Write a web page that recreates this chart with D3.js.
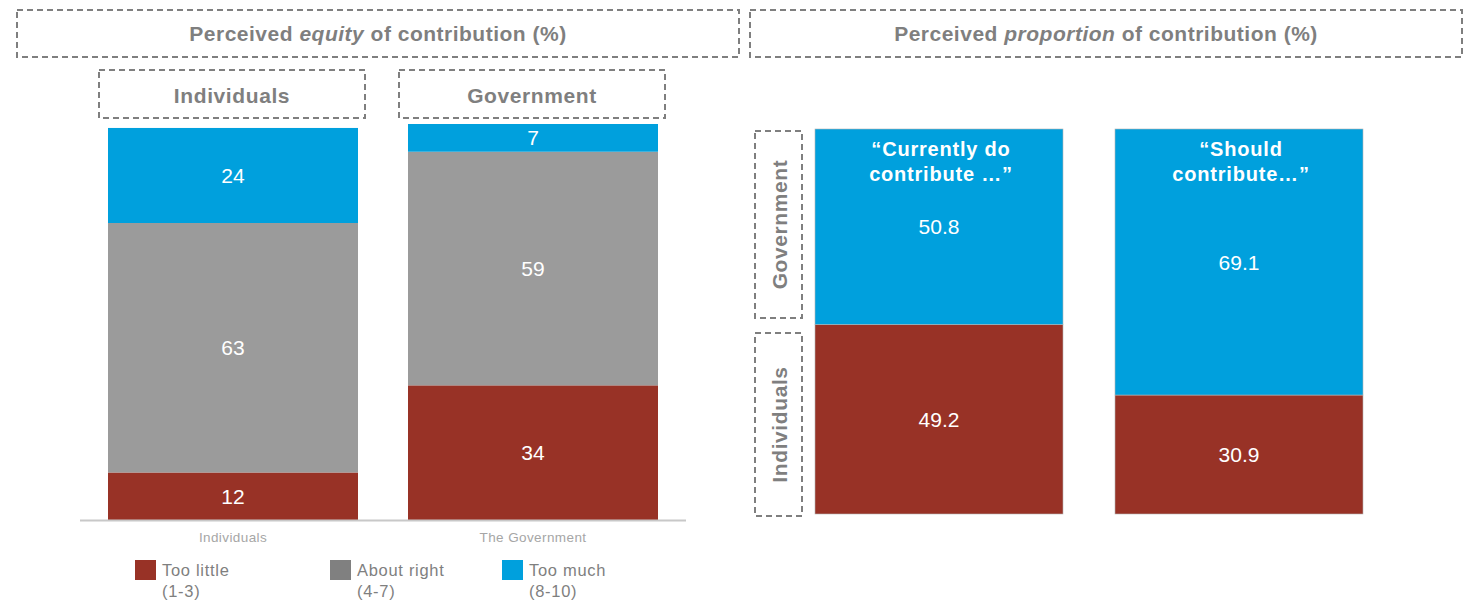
<!DOCTYPE html>
<html>
<head>
<meta charset="utf-8">
<script src="https://cdn.jsdelivr.net/npm/d3@7/dist/d3.min.js"></script>
<style>
  html, body { margin: 0; padding: 0; background: #fff; }
  svg { display: block; font-family: "Liberation Sans", Arial, sans-serif; }
</style>
</head>
<body>
<svg id="chart" width="1470" height="604"></svg>
<script>
// ---- Data ----
const equityCategories = ["Individuals", "The Government"];
const equityHeaders = ["Individuals", "Government"];
const equitySeries = ["Too little", "About right", "Too much"];
const equityRanges = ["(1-3)", "(4-7)", "(8-10)"];
const tooLittle = [12, 34];
const aboutRight = [63, 59];
const tooMuch = [24, 7];

const proportionCategories = ["“Currently do\ncontribute …”", "“Should\ncontribute…”"];
const proportionSeries = ["Individuals", "Government"];
const individualsShare = [49.2, 30.9];
const governmentShare = [50.8, 69.1];

// ---- Styles ----
const RED = "#983226", GREY = "#9b9b9b", BLUE = "#00a0dd";
const LEGEND_GREY = "#808080";
const TEXT_GREY = "#7f7f7f";

const svg = d3.select("#chart");

function dashedBox(x, y, w, h) {
  svg.append("rect")
    .attr("x", x).attr("y", y).attr("width", w).attr("height", h)
    .attr("fill", "none").attr("stroke", "#7f7f7f")
    .attr("stroke-width", 2).attr("stroke-dasharray", "6,4");
}

// ---- Section headers ----
function header(x, y, w, h, parts) {
  dashedBox(x, y, w, h);
  const t = svg.append("text")
    .attr("x", x + w / 2).attr("y", y + h / 2 + 7.5)
    .attr("text-anchor", "middle")
    .attr("font-size", 21).attr("font-weight", "bold").attr("fill", TEXT_GREY)
    .attr("letter-spacing", 0.5);
  parts.forEach(p => {
    t.append("tspan").text(p.t).attr("font-style", p.i ? "italic" : "normal");
  });
}
header(17, 10, 722, 47, [{t: "Perceived "}, {t: "equity", i: true}, {t: " of contribution  (%)"}]);
header(750, 10, 712, 47, [{t: "Perceived "}, {t: "proportion", i: true}, {t: "  of contribution  (%)"}]);

// ---- Left chart: perceived equity ----
const xL = d3.scaleBand()
  .domain(equityCategories)
  .range([83, 683])
  .paddingInner(1 / 6)
  .paddingOuter(1 / 12);
const yL = d3.scaleLinear().domain([0, 100]).range([520, 124]);

const equityRows = equityCategories.map((c, i) => ({
  cat: c, "Too little": tooLittle[i], "About right": aboutRight[i], "Too much": tooMuch[i]
}));
const equityStack = d3.stack().keys(equitySeries)(equityRows);
const equityColor = d3.scaleOrdinal().domain(equitySeries).range([RED, GREY, BLUE]);

// Sub-headers above each bar
equityCategories.forEach((c, i) => {
  const bx = xL(c) - 9, bw = xL.bandwidth() + 16;
  dashedBox(bx, 70, bw, 48);
  svg.append("text")
    .attr("x", bx + bw / 2).attr("y", 103)
    .attr("text-anchor", "middle")
    .attr("font-size", 21).attr("font-weight", "bold").attr("fill", TEXT_GREY)
    .attr("letter-spacing", 0.6)
    .text(equityHeaders[i]);
});

const gL = svg.append("g");
equityStack.forEach(layer => {
  const g = gL.append("g").attr("fill", equityColor(layer.key));
  g.selectAll("rect").data(layer).join("rect")
    .attr("x", d => xL(d.data.cat))
    .attr("y", d => yL(d[1]))
    .attr("width", xL.bandwidth())
    .attr("height", d => yL(d[0]) - yL(d[1]));
  gL.append("g").selectAll("text").data(layer).join("text")
    .attr("x", d => xL(d.data.cat) + xL.bandwidth() / 2)
    .attr("y", d => (yL(d[0]) + yL(d[1])) / 2 + 7.5)
    .attr("text-anchor", "middle")
    .attr("font-size", 21).attr("fill", "#fff")
    .text(d => d[1] - d[0]);
});

// Category axis
const axisL = svg.append("g")
  .attr("transform", "translate(0,520)")
  .call(d3.axisBottom(xL).tickSize(0).tickPadding(12));
axisL.select(".domain").attr("d", "M80,0.5H686").attr("stroke", "#c8c8c8").attr("stroke-width", 2);
axisL.selectAll("text")
  .attr("font-family", "Liberation Sans, Arial, sans-serif")
  .attr("font-size", 13.5).attr("letter-spacing", 0.4).attr("fill", "#a6a6a6");

// Legend
const legendX = [135, 330, 502];
const legend = svg.append("g");
equitySeries.forEach((s, i) => {
  const g = legend.append("g").attr("transform", `translate(${legendX[i]},560)`);
  g.append("rect").attr("width", 21).attr("height", 20)
    .attr("fill", i === 1 ? LEGEND_GREY : equityColor(s));
  g.append("text").attr("x", 27).attr("y", 16)
    .attr("font-size", 16.5).attr("letter-spacing", 0.7)
    .attr("fill", TEXT_GREY).text(s);
  g.append("text").attr("x", 27).attr("y", 37)
    .attr("font-size", 16.5).attr("letter-spacing", 0.7)
    .attr("fill", TEXT_GREY).text(equityRanges[i]);
});

// ---- Right chart: perceived proportion ----
const xR = d3.scaleBand()
  .domain(proportionCategories)
  .range([815, 1363])
  .paddingInner(52 / 300)
  .paddingOuter(0);
const yR = d3.scaleLinear().domain([0, 100]).range([514, 129]);

const propRows = proportionCategories.map((c, i) => ({
  cat: c, Individuals: individualsShare[i], Government: governmentShare[i]
}));
const propStack = d3.stack().keys(proportionSeries)(propRows);
const propColor = d3.scaleOrdinal().domain(proportionSeries).range([RED, BLUE]);

const gR = svg.append("g");
propStack.forEach(layer => {
  gR.append("g").attr("fill", propColor(layer.key))
    .attr("stroke", "#b4b4b4").attr("stroke-width", 0.6)
    .selectAll("rect").data(layer).join("rect")
    .attr("x", d => xR(d.data.cat))
    .attr("y", d => yR(d[1]))
    .attr("width", xR.bandwidth())
    .attr("height", d => yR(d[0]) - yR(d[1]));
  gR.append("g").selectAll("text").data(layer).join("text")
    .attr("x", d => xR(d.data.cat) + xR.bandwidth() / 2)
    .attr("y", d => (yR(d[0]) + yR(d[1])) / 2 + 7.5)
    .attr("text-anchor", "middle")
    .attr("font-size", 21).attr("fill", "#fff")
    .text(d => d3.format(".1f")(d[1] - d[0]));
});

// Bar titles inside the top of each bar
proportionCategories.forEach(c => {
  const cx = xR(c) + xR.bandwidth() / 2 + 2;
  const t = svg.append("text")
    .attr("x", cx).attr("y", 156)
    .attr("text-anchor", "middle")
    .attr("font-size", 20).attr("font-weight", "bold").attr("fill", "#fff")
    .attr("letter-spacing", 0.8);
  c.split("\n").forEach((line, j) => {
    t.append("tspan").attr("x", cx)
      .attr("dy", j === 0 ? 0 : 25).text(line);
  });
});

// Side labels for the stacked series
const sideLabels = [
  {name: "Government", y0: 131, y1: 318},
  {name: "Individuals", y0: 333, y1: 516}
];
sideLabels.forEach(s => {
  dashedBox(755, s.y0, 47, s.y1 - s.y0);
  svg.append("text")
    .attr("transform", `translate(787,${(s.y0 + s.y1) / 2}) rotate(-90)`)
    .attr("text-anchor", "middle")
    .attr("font-size", 21).attr("font-weight", "bold").attr("fill", TEXT_GREY)
    .attr("letter-spacing", 0.6)
    .text(s.name);
});
</script>
</body>
</html>
